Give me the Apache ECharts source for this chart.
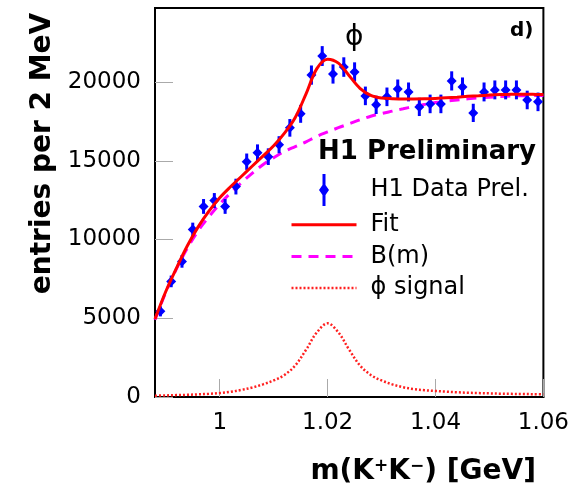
<!DOCTYPE html>
<html>
<head>
<meta charset="utf-8">
<script src="https://cdn.jsdelivr.net/npm/echarts@6/dist/echarts.min.js"></script>
<style>html,body{margin:0;padding:0;background:#fff;}#c{width:572px;height:494px;}</style>
</head>
<body>
<div id="c"></div>
<script>
// ---- data ----
const dataMass = [0.989,0.991,0.993,0.995,0.997,0.999,1.001,1.003,1.005,1.007,1.009,1.011,1.013,1.015,1.017,1.019,1.021,1.023,1.025,1.027,1.029,1.031,1.033,1.035,1.037,1.039,1.041,1.043,1.045,1.047,1.049,1.051,1.053,1.055,1.057,1.059];
const dataValues = [5440,7340,8610,10630,12100,12470,12100,13360,14940,15510,15260,16020,17090,17980,20440,21650,20510,20950,20640,19120,18550,19060,19560,19370,18420,18610,18610,20070,19690,18040,19370,19500,19500,19500,18860,18740];
const dataErrors = [320,370,400,440,470,480,470,500,520,530,530,540,560,570,610,630,610,620,610,590,580,590,600,600,580,590,590,610,600,580,600,600,600,600,590,590];

const curveMass = [0.988,0.990,0.992,0.994,0.996,0.998,1.000,1.002,1.004,1.006,1.008,1.010,1.012,1.014,1.016,1.018,1.020,1.022,1.024,1.026,1.028,1.030,1.032,1.034,1.036,1.038,1.040,1.042,1.044,1.046,1.048,1.050,1.052,1.054,1.056,1.058,1.060];
const fitValues = [4950,6700,8200,9600,10800,11800,12650,13350,14000,14650,15300,15950,16750,17750,19250,20850,21450,21200,20400,19600,19150,18980,18940,18920,18920,18930,18960,19000,19040,19090,19130,19170,19200,19220,19230,19220,19200];
const bgValues = [4900,6650,8150,9450,10550,11450,12250,12950,13600,14200,14750,15200,15600,15900,16200,16550,16830,17100,17350,17600,17830,18000,18150,18300,18450,18580,18700,18780,18860,18930,18990,19040,19080,19110,19130,19140,19150];
const signalValues = [80,100,120,140,170,200,250,330,450,600,800,1050,1400,2000,3000,4100,4680,4100,3000,2000,1400,1050,800,620,500,430,380,340,300,270,250,230,210,200,190,180,170];

const xTicks = [1.00,1.02,1.04,1.06];
const xTickLabels = ['1','1.02','1.04','1.06'];
const yTickLabels = ['0','5000','10000','15000','20000'];

const seriesNames = ['H1 Data Prel.','Fit','B(m)','ϕ signal'];

// ---- chart ----
const FONT = 'DejaVu Sans';
const chart = echarts.init(document.getElementById('c'), null, {renderer:'canvas'});
const pairs = (xs, ys) => xs.map((x,i)=>[x, ys[i]]);
const hideSym = {opacity:0, borderWidth:0};

const option = {
  backgroundColor:'#fff',
  animation:false,
  grid:{left:155, top:8, width:389, height:389, show:true, borderColor:'#000', borderWidth:2, backgroundColor:'transparent'},
  xAxis:{
    type:'value', min:0.988, max:1.06, minInterval:0.02, maxInterval:0.02,
    axisLine:{show:true, lineStyle:{color:'#000', width:2}},
    axisTick:{show:true, inside:true, length:18, lineStyle:{color:'#aaa', width:1}},
    splitLine:{show:false},
    axisLabel:{showMinLabel:false, margin:15, color:'#000', fontFamily:FONT, fontSize:23,
      formatter:function(v){ const i = xTicks.findIndex(t=>Math.abs(t-v)<1e-6); return i>=0 ? xTickLabels[i] : ''; }},
    name:'{b|m(K}{s|+}{b|K}{s|−}{b|) [GeV]}',
    nameLocation:'middle', nameGap:61,
    nameTextStyle:{color:'#000', fontFamily:FONT, fontWeight:'bold', fontSize:28, padding:[0,0,0,148],
      rich:{b:{fontFamily:FONT, fontWeight:'bold', fontSize:28, color:'#000'},
            s:{fontFamily:FONT, fontWeight:'bold', fontSize:17, color:'#000', verticalAlign:'top'}}}
  },
  yAxis:{
    type:'value', min:0, max:24700, interval:5000,
    axisLine:{show:true, lineStyle:{color:'#000', width:2}},
    axisTick:{show:true, inside:true, length:18, lineStyle:{color:'#aaa', width:1}},
    splitLine:{show:false},
    axisLabel:{showMaxLabel:false, margin:14, color:'#000', fontFamily:FONT, fontSize:23,
      formatter:function(v){ const i = Math.round(v/5000); return (Math.abs(v - i*5000)<1e-6 && yTickLabels[i]!==undefined) ? yTickLabels[i] : ''; }},
    name:'entries per 2 MeV',
    nameLocation:'middle', nameGap:98, nameRotate:90,
    nameTextStyle:{color:'#000', fontFamily:FONT, fontWeight:'bold', fontSize:28, padding:[0,0,0,98]}
  },
  legend:{
    orient:'vertical', left:285, top:169, itemWidth:65, itemHeight:32, itemGap:6,
    textStyle:{fontFamily:FONT, fontSize:24, color:'#000', padding:[0,0,0,9]},
    data:[
      {name:seriesNames[0], icon:'path://M3.5,0H6.5V11L10,16L6.5,21V32H3.5V21L0,16L3.5,11Z'},
      {name:seriesNames[1], itemStyle:hideSym, lineStyle:{width:3}},
      {name:seriesNames[2], itemStyle:hideSym, lineStyle:{width:3}},
      {name:seriesNames[3], itemStyle:hideSym, lineStyle:{width:2.5}}
    ]
  },
  graphic:[
    {type:'text', left:318, top:139, style:{text:'H1 Preliminary', font:'bold 26px "DejaVu Sans"', fill:'#000'}},
    {type:'text', left:510, top:21, style:{text:'d)', font:'bold 20px "DejaVu Sans"', fill:'#000'}},
    {type:'text', left:345, top:24, style:{text:'ϕ', font:'28px "DejaVu Sans"', fill:'#000'}}
  ],
  series:[
    {
      name:seriesNames[3], type:'line', data:pairs(curveMass, signalValues), smooth:0.35, symbol:'none',
      itemStyle:{color:'#ff2020'}, lineStyle:{color:'#ff2020', width:2.5, type:[2,2]}, z:2
    },
    {
      name:seriesNames[2], type:'line', data:pairs(curveMass, bgValues), smooth:0.35, symbol:'none',
      itemStyle:{color:'#ff00ff'}, lineStyle:{color:'#ff00ff', width:3, type:[10,7]}, z:3
    },
    {
      name:seriesNames[0], type:'custom',
      data:dataMass.map((m,i)=>[m, dataValues[i], dataErrors[i]]),
      encode:{x:0, y:1},
      itemStyle:{color:'#0000ff'}, z:4,
      renderItem:function(params, api){
        const x = api.value(0), y = api.value(1), e = api.value(2);
        const p = api.coord([x,y]), hi = api.coord([x,y+e]), lo = api.coord([x,y-e]);
        return {type:'group', children:[
          {type:'line', shape:{x1:p[0], y1:hi[1], x2:p[0], y2:lo[1]}, style:{stroke:'#0000ff', lineWidth:3}},
          {type:'polygon', shape:{points:[[p[0],p[1]-5],[p[0]+5,p[1]],[p[0],p[1]+5],[p[0]-5,p[1]]]}, style:{fill:'#0000ff'}}
        ]};
      }
    },
    {
      name:seriesNames[1], type:'line', data:pairs(curveMass, fitValues), smooth:0.35, symbol:'none',
      itemStyle:{color:'#ff0000'}, lineStyle:{color:'#ff0000', width:3}, z:5
    }
  ]
};
chart.setOption(option);
</script>
</body>
</html>
